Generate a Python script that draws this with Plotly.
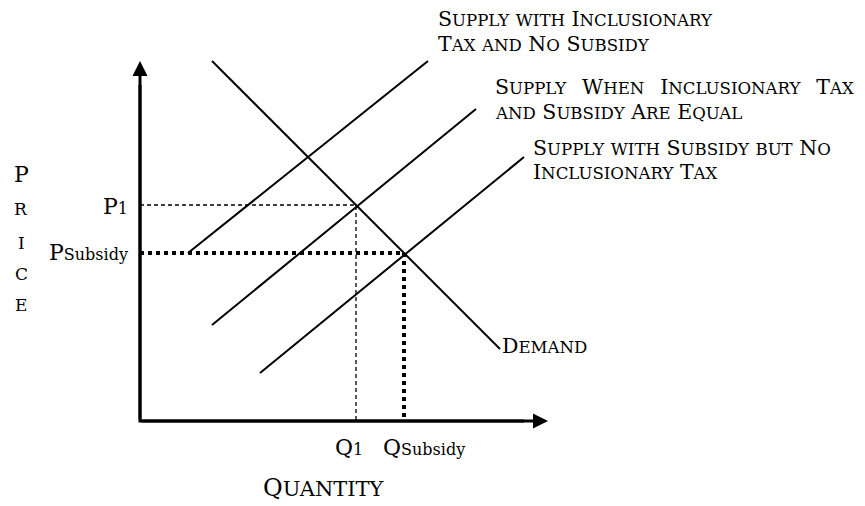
import plotly.graph_objects as go

# ---- data (price / quantity units) ----
demand_q = [3, 15]
demand_p = [15, 3]
supply_tax_q = [2, 12]          # supply with inclusionary tax and no subsidy
supply_tax_p = [7, 15]
supply_equal_q = [3, 14]        # supply when tax and subsidy are equal
supply_equal_p = [4, 13]
supply_sub_q = [5, 16]          # supply with subsidy but no tax
supply_sub_p = [2, 11]
P1, Q1 = 9, 9
P_SUB, Q_SUB = 7, 11
AXIS_Q_MAX = 17
AXIS_P_MAX = 15

OFF = 8                    # page body margin
W, H = 865 - OFF, 506 - OFF
FONT = "DejaVu Serif"
BIG, SMALL = 20.5, 16.6


def sc(text, small=SMALL):
    """Small caps: uppercase letters big, lowercase (and nbsp) rendered small."""
    out, buf = [], ""
    for ch in text:
        if ch.islower() or ch == "\u00a0":
            buf += ch.upper()
        else:
            if buf:
                out.append(f"<span style='font-size:{small}px'>{buf}</span>")
                buf = ""
            out.append(ch)
    if buf:
        out.append(f"<span style='font-size:{small}px'>{buf}</span>")
    return "".join(out)


fig = go.Figure()

line_black = dict(color="black", width=2)
for q, p in [(demand_q, demand_p), (supply_tax_q, supply_tax_p),
             (supply_equal_q, supply_equal_p), (supply_sub_q, supply_sub_p)]:
    fig.add_trace(go.Scatter(x=q, y=p, mode="lines", line=line_black,
                             hoverinfo="skip", showlegend=False))

# thin dashed guides at P1 / Q1
fig.add_trace(go.Scatter(x=[0, Q1, Q1], y=[P1, P1, 0], mode="lines",
                         line=dict(color="black", width=1.3, dash="4px,3px"),
                         hoverinfo="skip", showlegend=False))
# thick dotted guides at subsidy equilibrium
fig.add_trace(go.Scatter(x=[0, Q_SUB, Q_SUB], y=[P_SUB, P_SUB, 0], mode="lines",
                         line=dict(color="black", width=4, dash="dot"),
                         hoverinfo="skip", showlegend=False))

# axes (corner) drawn as a path
fig.add_trace(go.Scatter(x=[0, 0, AXIS_Q_MAX - 1], y=[AXIS_P_MAX - 1, 0, 0], mode="lines",
                         line=dict(color="black", width=3),
                         hoverinfo="skip", showlegend=False))

ann = []
# axis arrows
for (tx, ty) in [(0, AXIS_P_MAX), (AXIS_Q_MAX, 0)]:
    ann.append(dict(x=tx, y=ty, ax=0, ay=0, xref="x", yref="y", axref="x", ayref="y",
                    text="", showarrow=True, arrowhead=2, arrowsize=1, arrowwidth=3,
                    arrowcolor="black"))


def px(x):
    return (x - OFF) / W


def py(y):
    return 1 - (y - OFF) / H


def label(text, x, y, xanchor="left", size=BIG):
    ann.append(dict(x=px(x), y=py(y), xref="paper", yref="paper", text=text,
                    showarrow=False, xanchor=xanchor, yanchor="middle",
                    font=dict(family=FONT, size=size, color="black")))


label(sc("Supply with Inclusionary"), 436, 19)
label(sc("Tax and No Subsidy"), 436, 44)
label(sc("Supply\u00a0\u00a0\u00a0When\u00a0\u00a0\u00a0Inclusionary\u00a0\u00a0\u00a0Tax"), 493, 87)
label(sc("and Subsidy Are Equal"), 493, 112)
label(sc("Supply with Subsidy but No"), 531, 148)
label(sc("Inclusionary Tax"), 531, 172)
label(sc("Demand"), 500, 346)
label(sc("Quantity", small=21), 261, 488, size=24)

# PRICE, vertical
label("P", 21, 175, xanchor="center", size=22)
for letter, yy in zip("RICE", [209, 243, 274, 305]):
    label(letter, 21, yy, xanchor="center", size=17)

label("P<span style='font-size:16px'>1</span>", 130, 206, xanchor="right", size=22)
label("P<span style='font-size:16px'>Subsidy</span>", 130, 252, xanchor="right", size=22)
label("Q<span style='font-size:16px'>1</span>", 333, 447, size=22)
label("Q<span style='font-size:16px'>Subsidy</span>", 381, 447, size=22)

fig.update_layout(
    width=W, height=H,
    margin=dict(l=0, r=0, t=0, b=0),
    paper_bgcolor="white", plot_bgcolor="white",
    xaxis=dict(range=[-(140 - OFF) / 24, (W - (140 - OFF)) / 24],
               visible=False, fixedrange=True),
    yaxis=dict(range=[-(H - (421 - OFF)) / 24, (421 - OFF) / 24],
               visible=False, fixedrange=True),
    annotations=ann,
    showlegend=False,
)

fig.write_html("out.html")
